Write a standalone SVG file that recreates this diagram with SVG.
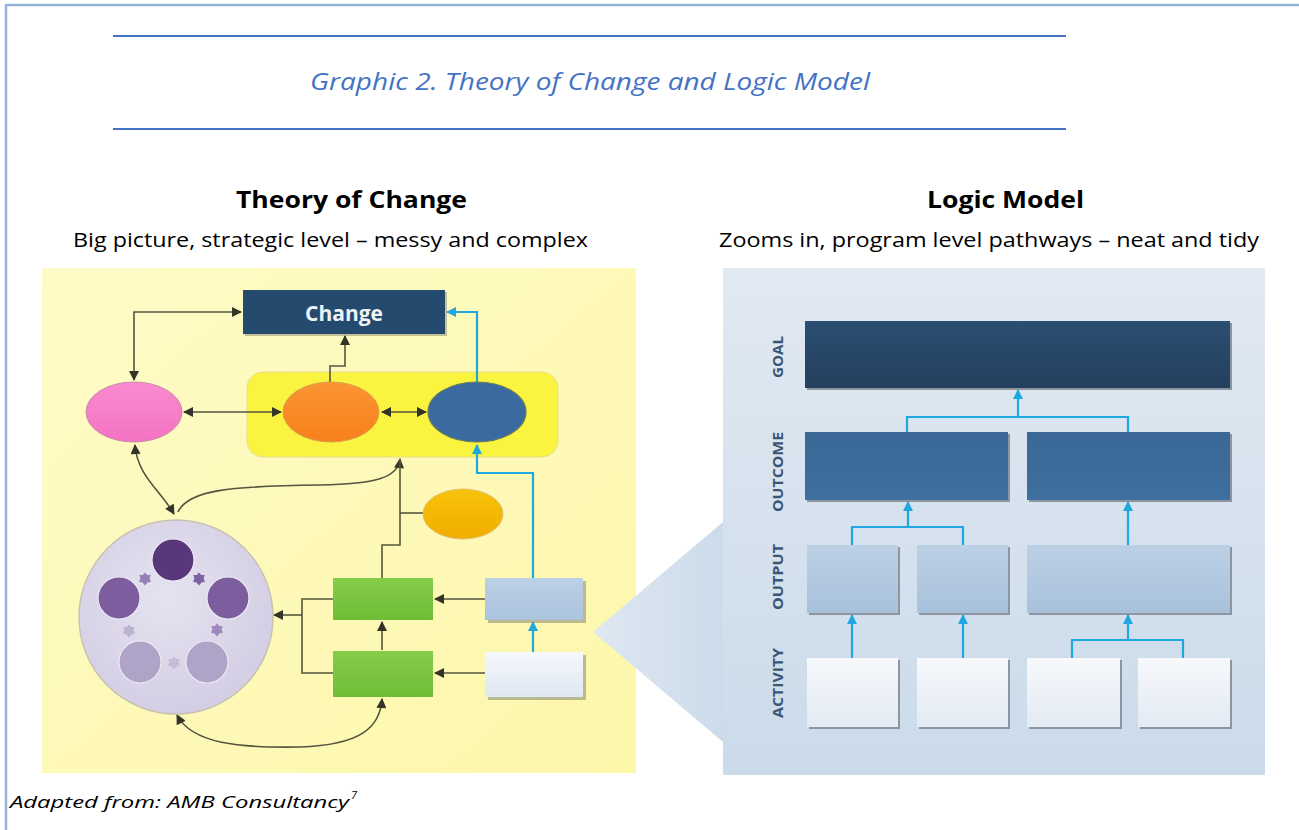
<svg xmlns="http://www.w3.org/2000/svg" width="1299" height="830" viewBox="0 0 1299 830">
  <style>
    .ttl { font-family: "Open Sans", "Liberation Sans", sans-serif; font-style: italic; fill: #4472c4; }
    .head { font-family: "Open Sans", "Liberation Sans", sans-serif; font-weight: bold; fill: #000; }
    .sub { font-family: "Open Sans", "Liberation Sans", sans-serif; fill: #000; }
    .foot { font-family: "Open Sans", "Liberation Sans", sans-serif; font-style: italic; fill: #000; }
    .lvl { font-family: "Open Sans", "Liberation Sans", sans-serif; font-weight: bold; font-size: 14px; fill: #3b5675; }
    .dk { fill: none; stroke: #55553f; stroke-width: 1.6; }
    .cy { fill: none; stroke: #1ea7e1; stroke-width: 2.2; }
    .shadow { fill: #8d96a0; }
  </style>
  <defs>
    <marker id="ad" viewBox="0 0 10 10" refX="9" refY="5" markerWidth="11" markerHeight="10" markerUnits="userSpaceOnUse" orient="auto-start-reverse">
      <path d="M0 0 L10 5 L0 10 Z" fill="#333328"/>
    </marker>
    <marker id="ac" viewBox="0 0 10 10" refX="9" refY="5" markerWidth="10" markerHeight="10" markerUnits="userSpaceOnUse" orient="auto-start-reverse">
      <path d="M0 0 L10 5 L0 10 Z" fill="#1ea7e1"/>
    </marker>
    <linearGradient id="gYel" x1="0" y1="0" x2="1" y2="1">
      <stop offset="0" stop-color="#fefbc8"/>
      <stop offset="1" stop-color="#fdf7aa"/>
    </linearGradient>
    <linearGradient id="gPanel" x1="0" y1="0" x2="0" y2="1">
      <stop offset="0" stop-color="#e1e9f2"/>
      <stop offset="1" stop-color="#cbdbea"/>
    </linearGradient>
    <linearGradient id="gTri" x1="0" y1="0" x2="1" y2="0">
      <stop offset="0" stop-color="#dfe8f2"/>
      <stop offset="1" stop-color="#ccdbea"/>
    </linearGradient>
    <linearGradient id="gGoal" x1="0" y1="0" x2="0" y2="1">
      <stop offset="0" stop-color="#2b4e72"/>
      <stop offset="1" stop-color="#243f5d"/>
    </linearGradient>
    <linearGradient id="gOut" x1="0" y1="0" x2="0" y2="1">
      <stop offset="0" stop-color="#3a6796"/>
      <stop offset="1" stop-color="#3f6f9f"/>
    </linearGradient>
    <linearGradient id="gOp" x1="0" y1="0" x2="0" y2="1">
      <stop offset="0" stop-color="#bcd1e6"/>
      <stop offset="1" stop-color="#a8c1db"/>
    </linearGradient>
    <linearGradient id="gAct" x1="0" y1="0" x2="0" y2="1">
      <stop offset="0" stop-color="#f7f9fc"/>
      <stop offset="1" stop-color="#e3eaf3"/>
    </linearGradient>
    <linearGradient id="gGreen" x1="0" y1="0" x2="0" y2="1">
      <stop offset="0" stop-color="#86cc4a"/>
      <stop offset="1" stop-color="#6fbd36"/>
    </linearGradient>
    <linearGradient id="gLb" x1="0" y1="0" x2="0" y2="1">
      <stop offset="0" stop-color="#bcd0e6"/>
      <stop offset="1" stop-color="#abc3dd"/>
    </linearGradient>
    <linearGradient id="gWh" x1="0" y1="0" x2="0" y2="1">
      <stop offset="0" stop-color="#f6f8fc"/>
      <stop offset="1" stop-color="#dfe7f2"/>
    </linearGradient>
    <radialGradient id="gCirc" cx="0.45" cy="0.4" r="0.6">
      <stop offset="0" stop-color="#e6e3f0"/>
      <stop offset="1" stop-color="#d3cee4"/>
    </radialGradient>
    <linearGradient id="gPink" x1="0" y1="0" x2="0" y2="1">
      <stop offset="0" stop-color="#f98bd0"/>
      <stop offset="1" stop-color="#f473c2"/>
    </linearGradient>
    <linearGradient id="gOrg" x1="0" y1="0" x2="0" y2="1">
      <stop offset="0" stop-color="#fb9533"/>
      <stop offset="1" stop-color="#f7801a"/>
    </linearGradient>
    <linearGradient id="gGold" x1="0" y1="0" x2="0" y2="1">
      <stop offset="0" stop-color="#f8c30a"/>
      <stop offset="1" stop-color="#f0ad00"/>
    </linearGradient>
    <path id="gear" d="M0 -6.5 L2.2 -4 L5.6 -4 L4.6 -0.5 L6 2.8 L2.4 3.6 L0 6.5 L-2.4 3.6 L-6 2.8 L-4.6 -0.5 L-5.6 -4 L-2.2 -4 Z"/>
  </defs>

  <!-- page frame -->
  <g id="frame">
    <rect x="0" y="0" width="1299" height="830" fill="#ffffff"/>
    <line x1="6" y1="5" x2="1299" y2="5" stroke="#95b3d7" stroke-width="2.5"/>
    <line x1="6" y1="4" x2="6" y2="830" stroke="#95b3d7" stroke-width="2.5"/>
  </g>

  <!-- caption -->
  <g id="caption">
    <line x1="113" y1="36" x2="1066" y2="36" stroke="#4472c4" stroke-width="2"/>
    <line x1="113" y1="129" x2="1066" y2="129" stroke="#4472c4" stroke-width="2"/>
    <text class="ttl" x="310" y="90" font-size="24" textLength="560" lengthAdjust="spacingAndGlyphs">Graphic 2. Theory of Change and Logic Model</text>
  </g>

  <!-- headings -->
  <g id="headings">
    <text class="head" x="236" y="208" font-size="24" textLength="231" lengthAdjust="spacingAndGlyphs">Theory of Change</text>
    <text class="sub" x="73" y="247" font-size="19.5" textLength="515" lengthAdjust="spacingAndGlyphs">Big picture, strategic level – messy and complex</text>
    <text class="head" x="927" y="208" font-size="24" textLength="157" lengthAdjust="spacingAndGlyphs">Logic Model</text>
    <text class="sub" x="719" y="247" font-size="19.5" textLength="540" lengthAdjust="spacingAndGlyphs">Zooms in, program level pathways – neat and tidy</text>
  </g>

  <!-- theory of change panel background -->
  <g id="toc-panel">
    <rect x="42" y="268" width="594" height="505" fill="url(#gYel)"/>
    <rect x="247" y="372" width="311" height="85" rx="16" fill="#faf340" stroke="#e8e08a" stroke-width="1"/>
  </g>

  <!-- logic model panel background -->
  <g id="lm-panel">
    <polygon points="593,632 723,522 723,742" fill="url(#gTri)"/>
    <rect x="723" y="268" width="542" height="507" fill="url(#gPanel)"/>
  </g>

  <!-- theory of change connectors -->
  <g id="toc-connectors">
    <polyline class="dk" points="134,380 134,312 241,312" marker-start="url(#ad)" marker-end="url(#ad)"/>
    <line class="dk" x1="184" y1="412" x2="281" y2="412" marker-start="url(#ad)" marker-end="url(#ad)"/>
    <line class="dk" x1="382" y1="412" x2="426" y2="412" marker-start="url(#ad)" marker-end="url(#ad)"/>
    <polyline class="dk" points="330,382 330,366 345,366 345,336" marker-end="url(#ad)"/>
    <path class="dk" d="M135 445 C137 475 160 490 174 514" marker-start="url(#ad)" marker-end="url(#ad)"/>
    <path class="dk" d="M178 512 C188 490 230 486 320 485 C375 484 398 478 400 459" marker-end="url(#ad)"/>
    <polyline class="dk" points="382,578 382,545 400,545 400,459"/>
    <line class="dk" x1="400" y1="513" x2="424" y2="513"/>
    <line class="dk" x1="485" y1="599" x2="435" y2="599" marker-end="url(#ad)"/>
    <line class="dk" x1="485" y1="673" x2="435" y2="673" marker-end="url(#ad)"/>
    <line class="dk" x1="382" y1="650" x2="382" y2="622" marker-end="url(#ad)"/>
    <polyline class="dk" points="333,599 302,599 302,673 333,673"/>
    <line class="dk" x1="302" y1="615" x2="274" y2="615" marker-end="url(#ad)"/>
    <path class="dk" d="M177 715 C192 744 240 748 300 747 C360 745 380 728 382 699" marker-start="url(#ad)" marker-end="url(#ad)"/>
    <polyline class="cy" points="477,382 477,312 447,312" marker-end="url(#ac)"/>
    <polyline class="cy" points="533,578 533,473 477,473 477,445" marker-end="url(#ac)"/>
    <line class="cy" x1="533" y1="652" x2="533" y2="622" marker-end="url(#ac)"/>
  </g>

  <!-- theory of change nodes -->
  <g id="node-change">
    <rect x="245" y="292" width="202" height="44" fill="#8a8a70" opacity="0.5"/>
    <rect x="243" y="290" width="202" height="44" fill="#244a6e"/>
    <text x="344" y="321" font-family="Open Sans, Liberation Sans, sans-serif" font-weight="bold" font-size="21" fill="#eef2f7" text-anchor="middle">Change</text>
  </g>
  <g id="node-pink">
    <ellipse cx="134" cy="412" rx="48" ry="30" fill="url(#gPink)" stroke="#c98aa8" stroke-width="1"/>
  </g>
  <g id="node-orange">
    <ellipse cx="331" cy="412" rx="48" ry="30" fill="url(#gOrg)" stroke="#d8a050" stroke-width="1"/>
  </g>
  <g id="node-blue">
    <ellipse cx="477" cy="412" rx="49" ry="30" fill="#3b6aa0" stroke="#6a7d5a" stroke-width="1.2"/>
  </g>
  <g id="node-gold">
    <ellipse cx="463" cy="514" rx="40" ry="25" fill="url(#gGold)" stroke="#e0c070" stroke-width="1"/>
  </g>
  <g id="node-system">
    <circle cx="176" cy="617" r="97" fill="url(#gCirc)" stroke="#c8c2b0" stroke-width="1.5"/>
    <circle cx="173" cy="560" r="21" fill="#58387a" stroke="#efeaf5" stroke-width="1.2"/>
    <circle cx="119" cy="598" r="21" fill="#7c5e9f" stroke="#efeaf5" stroke-width="1.2"/>
    <circle cx="228" cy="598" r="21" fill="#7c5e9f" stroke="#efeaf5" stroke-width="1.2"/>
    <circle cx="140" cy="662" r="21" fill="#b0a3c8" stroke="#efeaf5" stroke-width="1.2"/>
    <circle cx="207" cy="662" r="21" fill="#b0a3c8" stroke="#efeaf5" stroke-width="1.2"/>
    <use href="#gear" x="145" y="579" fill="#9580b5"/>
    <use href="#gear" x="199" y="579" fill="#7d62a2"/>
    <use href="#gear" x="129" y="631" fill="#bcb2d2"/>
    <use href="#gear" x="217" y="630" fill="#9c88bc"/>
    <use href="#gear" x="174" y="663" fill="#c6bcda"/>
  </g>
  <g id="node-green1">
    <rect x="333" y="578" width="100" height="42" fill="url(#gGreen)"/>
  </g>
  <g id="node-green2">
    <rect x="333" y="651" width="100" height="46" fill="url(#gGreen)"/>
  </g>
  <g id="node-output">
    <rect x="488" y="581" width="98" height="42" fill="#8f8f7a" opacity="0.6"/>
    <rect x="485" y="578" width="98" height="42" fill="url(#gLb)"/>
  </g>
  <g id="node-activity">
    <rect x="488" y="655" width="98" height="45" fill="#8f8f7a" opacity="0.6"/>
    <rect x="485" y="652" width="98" height="45" fill="url(#gWh)"/>
  </g>

  <!-- logic model level labels -->
  <g id="lm-labels">
    <text class="lvl" transform="translate(783,357) rotate(-90)" text-anchor="middle" textLength="42" lengthAdjust="spacingAndGlyphs">GOAL</text>
    <text class="lvl" transform="translate(783,472) rotate(-90)" text-anchor="middle" textLength="80" lengthAdjust="spacingAndGlyphs">OUTCOME</text>
    <text class="lvl" transform="translate(783,577) rotate(-90)" text-anchor="middle" textLength="66" lengthAdjust="spacingAndGlyphs">OUTPUT</text>
    <text class="lvl" transform="translate(783,683) rotate(-90)" text-anchor="middle" textLength="70" lengthAdjust="spacingAndGlyphs">ACTIVITY</text>
  </g>

  <!-- logic model connectors -->
  <g id="lm-connectors">
    <polyline class="cy" points="907,432 907,417 1128,417 1128,432"/>
    <line class="cy" x1="1018" y1="417" x2="1018" y2="390" marker-end="url(#ac)"/>
    <polyline class="cy" points="852,545 852,527 963,527 963,545"/>
    <line class="cy" x1="908" y1="527" x2="908" y2="502" marker-end="url(#ac)"/>
    <line class="cy" x1="1128" y1="545" x2="1128" y2="502" marker-end="url(#ac)"/>
    <line class="cy" x1="852" y1="658" x2="852" y2="615" marker-end="url(#ac)"/>
    <line class="cy" x1="963" y1="658" x2="963" y2="615" marker-end="url(#ac)"/>
    <polyline class="cy" points="1072,658 1072,640 1183,640 1183,658"/>
    <line class="cy" x1="1128" y1="640" x2="1128" y2="615" marker-end="url(#ac)"/>
  </g>

  <!-- logic model nodes -->
  <g id="lm-goal">
    <rect x="807" y="323" width="425" height="67" class="shadow"/>
    <rect x="805" y="321" width="425" height="67" fill="url(#gGoal)"/>
  </g>
  <g id="lm-outcome1">
    <rect x="807" y="434" width="203" height="68" class="shadow"/>
    <rect x="805" y="432" width="203" height="68" fill="url(#gOut)"/>
  </g>
  <g id="lm-outcome2">
    <rect x="1029" y="434" width="203" height="68" class="shadow"/>
    <rect x="1027" y="432" width="203" height="68" fill="url(#gOut)"/>
  </g>
  <g id="lm-output1">
    <rect x="809" y="547" width="91" height="68" class="shadow"/>
    <rect x="807" y="545" width="91" height="68" fill="url(#gOp)"/>
  </g>
  <g id="lm-output2">
    <rect x="919" y="547" width="91" height="68" class="shadow"/>
    <rect x="917" y="545" width="91" height="68" fill="url(#gOp)"/>
  </g>
  <g id="lm-output3">
    <rect x="1029" y="547" width="203" height="68" class="shadow"/>
    <rect x="1027" y="545" width="203" height="68" fill="url(#gOp)"/>
  </g>
  <g id="lm-activity1">
    <rect x="809" y="660" width="91" height="69" class="shadow"/>
    <rect x="807" y="658" width="91" height="69" fill="url(#gAct)"/>
  </g>
  <g id="lm-activity2">
    <rect x="919" y="660" width="91" height="69" class="shadow"/>
    <rect x="917" y="658" width="91" height="69" fill="url(#gAct)"/>
  </g>
  <g id="lm-activity3">
    <rect x="1029" y="660" width="93" height="69" class="shadow"/>
    <rect x="1027" y="658" width="93" height="69" fill="url(#gAct)"/>
  </g>
  <g id="lm-activity4">
    <rect x="1140" y="660" width="92" height="69" class="shadow"/>
    <rect x="1138" y="658" width="92" height="69" fill="url(#gAct)"/>
  </g>

  <!-- source note -->
  <g id="source">
    <text class="foot" x="10" y="808" font-size="16.5" textLength="339" lengthAdjust="spacingAndGlyphs">Adapted from: AMB Consultancy</text>
    <text class="foot" x="351" y="799" font-size="11">7</text>
  </g>
</svg>
